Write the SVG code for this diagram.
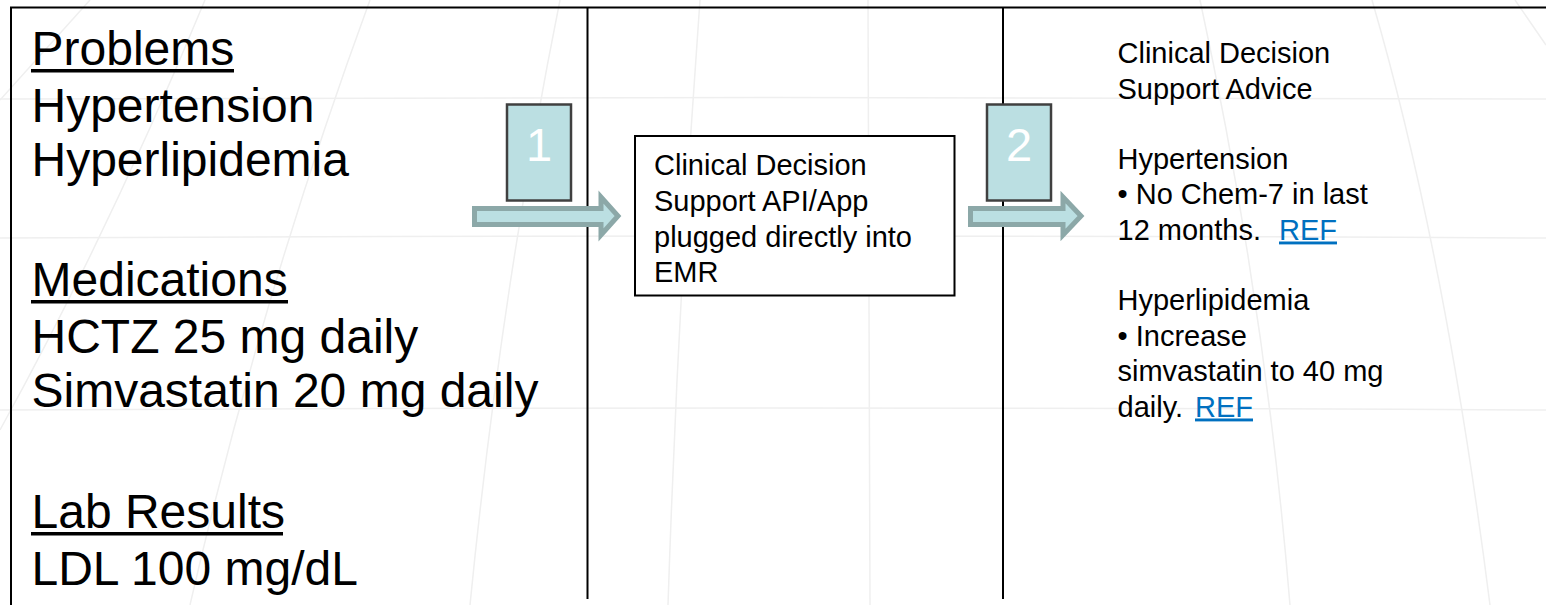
<svg xmlns="http://www.w3.org/2000/svg" width="1546" height="605" viewBox="0 0 1546 605">
<defs>
<style>
.bg{fill:none;stroke:#efefef;stroke-width:1.5}
.frame{stroke:#000;stroke-width:2;fill:none}
.big{font-family:"Liberation Sans",Arial,sans-serif;font-size:48px;fill:#000}
.sm{font-family:"Liberation Sans",Arial,sans-serif;font-size:29px;fill:#000}
.num{font-family:"Liberation Sans",Arial,sans-serif;font-size:47px;fill:#fff;text-anchor:middle}
.tag{fill:#BBDFE2;stroke:#404040;stroke-width:2.5}
.arrow{fill:#BBDFE2;stroke:#8CA8A8;stroke-width:5;stroke-linejoin:miter}
.link{fill:#0070C0;text-decoration:underline}
</style>
</defs>
<rect width="1546" height="605" fill="#fff"/>
<g id="background">
<path class="bg" d="M90 0 L0 100"/>
<path class="bg" d="M205 0 Q110 230 0 430"/>
<path class="bg" d="M370 0 Q260 300 190 605"/>
<path class="bg" d="M560 0 Q500 300 470 605"/>
<path class="bg" d="M700 0 Q678 300 668 605"/>
<path class="bg" d="M868 0 L870 605"/>
<path class="bg" d="M1200 0 Q1265 300 1290 605"/>
<path class="bg" d="M1372 0 Q1445 250 1490 605"/>
<path class="bg" d="M1515 0 L1546 45"/>
<path class="bg" d="M0 99 Q773 96 1546 99"/>
<path class="bg" d="M0 238 Q773 234 1546 238"/>
<path class="bg" d="M0 410 Q773 406 1546 410"/>
</g>
<g id="frame">
<line class="frame" x1="10" y1="7.5" x2="1546" y2="7.5"/>
<line class="frame" x1="11" y1="7" x2="11" y2="605"/>
<line class="frame" x1="587.5" y1="8" x2="587.5" y2="599"/>
<line class="frame" x1="1003" y1="8" x2="1003" y2="599"/>
</g>
<g id="patient-data">
<text class="big" x="31.5" y="65">Problems</text>
<rect x="31" y="69" width="203" height="3.5" fill="#000"/>
<text class="big" x="31.5" y="122">Hypertension</text>
<text class="big" x="31.5" y="175.5">Hyperlipidemia</text>
<text class="big" x="31.5" y="296">Medications</text>
<rect x="31" y="300" width="257" height="3.5" fill="#000"/>
<text class="big" x="31.5" y="353">HCTZ 25 mg daily</text>
<text class="big" x="31.5" y="406.5">Simvastatin 20 mg daily</text>
<text class="big" x="31.5" y="528">Lab Results</text>
<rect x="31" y="532" width="252" height="3.5" fill="#000"/>
<text class="big" x="31.5" y="585">LDL 100 mg/dL</text>
</g>
<g id="cds-app">
<rect x="635" y="136" width="319.5" height="159.5" fill="#fff" stroke="#000" stroke-width="2"/>
<text class="sm" x="654"><tspan x="654" y="175">Clinical Decision</tspan><tspan x="654" y="211">Support API/App</tspan><tspan x="654" y="247">plugged directly into</tspan><tspan x="654" y="282">EMR</tspan></text>
</g>
<g id="advice">
<text class="sm" x="1117.5"><tspan x="1117.5" y="63">Clinical Decision</tspan><tspan x="1117.5" y="98.5">Support Advice</tspan><tspan x="1117.5" y="169">Hypertension</tspan><tspan x="1117.5" y="204">• No Chem-7 in last</tspan><tspan x="1117.5" y="239.5">12 months.</tspan><tspan class="link" x="1279" y="239.5">REF</tspan><tspan x="1117.5" y="310">Hyperlipidemia</tspan><tspan x="1117.5" y="345.5">• Increase</tspan><tspan x="1117.5" y="381">simvastatin to 40 mg</tspan><tspan x="1117.5" y="416.5">daily.</tspan><tspan class="link" x="1195" y="416.5">REF</tspan></text>
</g>
<g id="step1">
<rect class="tag" x="507" y="104.5" width="64" height="96"/>
<text class="num" x="539" y="161">1</text>
</g>
<g id="step2">
<rect class="tag" x="987" y="104.5" width="64" height="96"/>
<text class="num" x="1019" y="161">2</text>
</g>
<g id="connectors">
<polygon class="arrow" points="474.5,208.5 601,208.5 601,197 618,216 601,235 601,224.5 474.5,224.5"/>
<polygon class="arrow" points="970.5,208.5 1063,208.5 1063,197 1081,216 1063,235 1063,224.5 970.5,224.5"/>
</g>
</svg>
